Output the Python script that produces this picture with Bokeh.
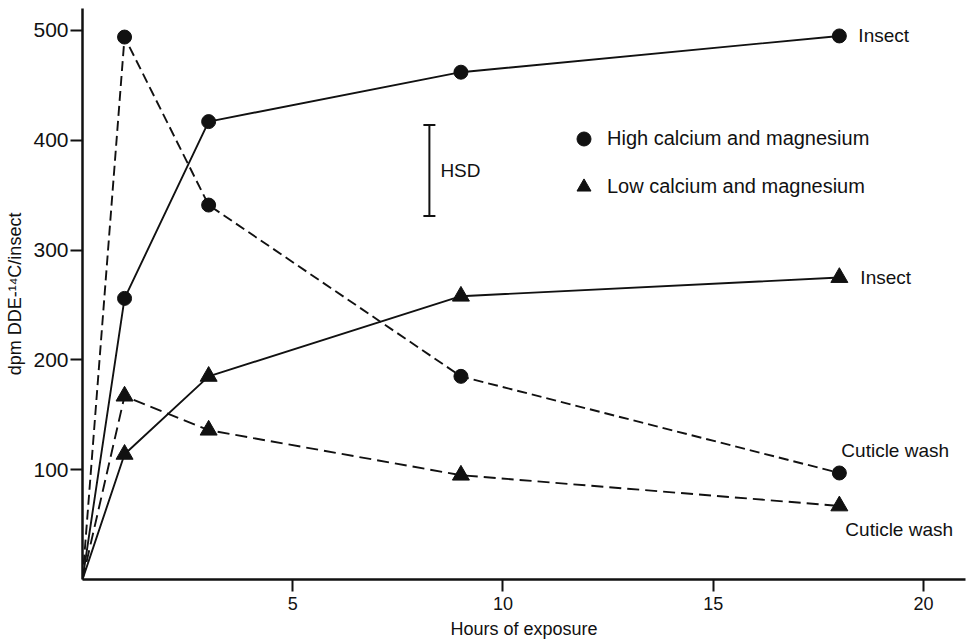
from bokeh.plotting import figure
from bokeh.models import Range1d, FixedTicker, Legend, LegendItem
from bokeh.core.properties import value
from bokeh.embed import file_html
from bokeh.resources import INLINE

# ---- data ----
hours = [0, 1, 3, 9, 18]
high_insect = [0, 256, 417, 462, 495]
high_cuticle = [0, 494, 341, 185, 97]
low_insect = [0, 114, 185, 258, 275]
low_cuticle = [0, 167, 136, 95, 67]

hsd_x = 8.25
hsd_low = 331
hsd_high = 414

x_ticks = [5, 10, 15, 20]
y_ticks = [100, 200, 300, 400, 500]

FONT = "Liberation Sans"
INK = "#111111"

p = figure(width=967, height=643, output_backend="svg", toolbar_location=None,
           x_range=Range1d(0, 21.0), y_range=Range1d(0, 520),
           min_border_left=82, min_border_right=2, min_border_top=8, min_border_bottom=64)
p.background_fill_color = "white"
p.border_fill_color = "white"
p.outline_line_color = None
p.xgrid.visible = False
p.ygrid.visible = False

p.xaxis.ticker = FixedTicker(ticks=x_ticks)
p.yaxis.ticker = FixedTicker(ticks=y_ticks)
for ax in (p.xaxis, p.yaxis):
    ax.axis_line_width = 2.5
    ax.axis_line_color = INK
    ax.major_tick_line_width = 2
    ax.major_tick_line_color = INK
    ax.major_tick_out = 12
    ax.major_tick_in = 0
    ax.minor_tick_line_color = None
    ax.major_label_text_font = FONT
    ax.major_label_text_color = INK
    ax.axis_label_text_font = FONT
    ax.axis_label_text_font_style = "normal"
    ax.axis_label_text_color = INK

p.xaxis.major_label_text_font_size = "18px"
p.xaxis.major_label_standoff = 5
p.xaxis.axis_label = "Hours of exposure"
p.xaxis.axis_label_text_font_size = "18px"
p.xaxis.axis_label_standoff = 6

p.yaxis.major_label_text_font_size = "21px"
p.yaxis.major_label_standoff = 2
p.yaxis.axis_label = "dpm DDE-\u00b9\u2074C/insect"
p.yaxis.axis_label_text_font_size = "18px"
p.yaxis.axis_label_standoff = 5

# ---- lines ----
p.line(hours, high_insect, line_color=INK, line_width=1.9)
p.line(hours, low_insect, line_color=INK, line_width=1.9)
p.line(hours, high_cuticle, line_color=INK, line_width=1.9, line_dash="10 5")
p.line(hours, low_cuticle, line_color=INK, line_width=1.9, line_dash="12 6")

# ---- markers ----
hi_sc = p.scatter(hours[1:], high_insect[1:], marker="circle", size=14, color=INK)
p.scatter(hours[1:], high_cuticle[1:], marker="circle", size=14, color=INK)
lo_sc = p.scatter(hours[1:], low_insect[1:], marker="triangle", size=17, color=INK)
p.scatter(hours[1:], low_cuticle[1:], marker="triangle", size=17, color=INK)

# ---- end labels ----
lbl = dict(text_font=value(FONT), text_font_size="19px", text_color=INK,
           text_baseline="middle", text_align="left")
p.text(x=[hours[-1]], y=[high_insect[-1]], text=["Insect"], x_offset=19, **lbl)
p.text(x=[hours[-1]], y=[low_insect[-1]], text=["Insect"], x_offset=21, **lbl)
p.text(x=[hours[-1]], y=[high_cuticle[-1]], text=["Cuticle wash"], x_offset=2, y_offset=-22, **lbl)
p.text(x=[hours[-1]], y=[low_cuticle[-1]], text=["Cuticle wash"], x_offset=6, y_offset=24, **lbl)

# ---- HSD bar ----
p.segment(x0=[hsd_x], y0=[hsd_low], x1=[hsd_x], y1=[hsd_high], line_color=INK, line_width=2)
p.scatter([hsd_x, hsd_x], [hsd_low, hsd_high], marker="dash", size=12, line_color=INK, line_width=2)
p.text(x=[hsd_x], y=[(hsd_low + hsd_high) / 2], text=["HSD"], x_offset=11, **lbl)

# ---- legend ----
legend = Legend(items=[LegendItem(label="High calcium and magnesium", renderers=[hi_sc]),
                       LegendItem(label="Low calcium and magnesium", renderers=[lo_sc])],
                location=(484, 375), orientation="vertical",
                glyph_width=35, glyph_height=35, label_standoff=6, spacing=13,
                padding=0, margin=0, border_line_color=None, background_fill_alpha=0,
                label_text_font=FONT, label_text_font_size="20px", label_text_color=INK)
p.add_layout(legend)

open("out.html", "w").write(file_html(p, INLINE))
